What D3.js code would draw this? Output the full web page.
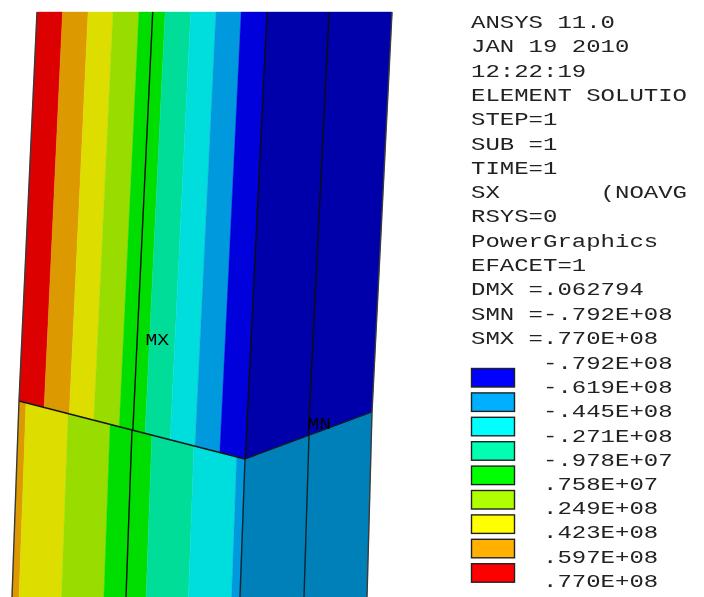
<!DOCTYPE html>
<html>
<head>
<meta charset="utf-8">
<style>
    html, body { margin: 0; padding: 0; background: #fff; }
    svg { display: block; }
    text { font-family: "Liberation Mono", monospace; fill: #222; white-space: pre; }
</style>
<script src="https://cdn.jsdelivr.net/npm/d3@7"></script>
</head>
<body>
<script>
// =======================DATA================================
const statusLines = [
    'ANSYS 11.0', 'JAN 19 2010', '12:22:19', 'ELEMENT SOLUTIO', 'STEP=1', 'SUB =1', 'TIME=1',
    'SX       (NOAVG', 'RSYS=0', 'PowerGraphics', 'EFACET=1', 'DMX =.062794',
    'SMN =-.792E+08', 'SMX =.770E+08'
]
const legendLevels = ['-.792E+08', '-.619E+08', '-.445E+08', '-.271E+08', '-.978E+07',
    '.758E+07', '.249E+08', '.423E+08', '.597E+08', '.770E+08']
const legendBands = ['blue', 'sky', 'cyan', 'teal', 'green', 'lime', 'yellow', 'orange', 'red']

// band edges, in percent across each face of the section
const upperEdges = [0, 7.2, 14.4, 21.4, 28.7, 36.1, 43.3, 50.4, 57.5, 64.8, 100]
const upperBands = ['red', 'orange', 'yellow', 'lime', 'green', 'teal', 'cyan', 'sky', 'blue', 'navy']
const lowerLeftEdges = [0, 3.1, 21.7, 40.3, 58.8, 77.4, 96.3, 100]
const lowerLeftBands = ['orange', 'yellow', 'lime', 'green', 'teal', 'cyan', 'sky']
const lowerRightEdges = [0, 100]
const lowerRightBands = ['steel']

// element boundaries, same percent units
const upperMesh = [32.6, 64.8, 82.3]
const lowerLeftMesh = [50]
const lowerRightMesh = [50.4]
const seamCorner = 64.8

const legendColor = d3.scaleOrdinal()
    .domain(legendBands)
    .range(['#0000ff', '#00b0ff', '#00ffff', '#00ffb0', '#00ff00', '#b0ff00', '#ffff00', '#ffb000', '#ff0000'])
const faceColor = d3.scaleOrdinal()
    .domain(['red', 'orange', 'yellow', 'lime', 'green', 'teal', 'cyan', 'sky', 'blue', 'navy', 'steel'])
    .range(['#dd0000', '#dd9900', '#dddd00', '#99dd00', '#00dd00', '#00dd99', '#00dddd', '#0099dd', '#0000dd', '#0000aa', '#0080b8'])

// =======================SCALES==============================
const width = 704
const height = 597
const faceTop = 12
const charWidth = 14.4

const svg = d3.select('body').append('svg')
    .attr('width', width)
    .attr('height', height)

const plot = svg.append('g').style('filter', 'blur(0.35px)')
const legend = svg.append('g').style('filter', 'blur(0.3px)')

// upper face: both sides lean, the lower boundary is the kinked seam
const upperLeftX = d3.scaleLinear().domain([faceTop, 401]).range([37, 19])
const upperRightX = d3.scaleLinear().domain([faceTop, 412]).range([392, 372])
const seamY = d3.scaleLinear().domain([0, seamCorner, 100]).range([401, 459, 412])

function upperPoint(u, y) {
    const x = d3.scaleLinear().domain([0, 100]).range([upperLeftX(y), upperRightX(y)])
    return [x(u), y]
}

// lower faces: straight top edge down to the bottom of the picture
function lowerFace(topX, topY, bottomX) {
    return {
        top: (u) => [d3.scaleLinear().domain([0, 100]).range(topX)(u), d3.scaleLinear().domain([0, 100]).range(topY)(u)],
        bottom: (u) => [d3.scaleLinear().domain([0, 100]).range(bottomX)(u), height]
    }
}
const lowerLeft = lowerFace([19, 245], [401, 459], [12, 240])
const lowerRight = lowerFace([245, 372], [459, 412], [240, 367])

const line = d3.line()

// =======================FACES===============================
function drawBands(edges, bands, corners) {
    plot.append('g')
        .selectAll('path')
        .data(bands)
        .enter().append('path')
        .attr('d', (d, i) => line(corners(edges[i], edges[i + 1])) + 'Z')
        .attr('fill', (d) => faceColor(d))
        .attr('stroke', (d) => faceColor(d))
        .attr('stroke-width', 0.4)
}

drawBands(upperEdges, upperBands, (a, b) => [
    upperPoint(a, faceTop), upperPoint(b, faceTop), upperPoint(b, seamY(b)), upperPoint(a, seamY(a))
])
drawBands(lowerLeftEdges, lowerLeftBands, (a, b) => [
    lowerLeft.top(a), lowerLeft.top(b), lowerLeft.bottom(b), lowerLeft.bottom(a)
])
drawBands(lowerRightEdges, lowerRightBands, (a, b) => [
    lowerRight.top(a), lowerRight.top(b), lowerRight.bottom(b), lowerRight.bottom(a)
])

// =======================MESH================================
function drawLines(segments, color, w) {
    plot.append('g')
        .selectAll('path')
        .data(segments)
        .enter().append('path')
        .attr('d', (d) => line(d))
        .attr('fill', 'none')
        .attr('stroke', color)
        .attr('stroke-width', w)
}

drawLines(upperMesh.map((u) => [upperPoint(u, faceTop), upperPoint(u, seamY(u))]), '#0c0c0c', 1.4)
drawLines(lowerLeftMesh.map((u) => [lowerLeft.top(u), lowerLeft.bottom(u)]), '#0c0c0c', 1.4)
drawLines(lowerRightMesh.concat([0]).map((u) => [lowerRight.top(u), lowerRight.bottom(u)]), '#0c2430', 1.4)
drawLines([
    [lowerLeft.top(0), lowerLeft.top(100)],
    [lowerRight.top(0), lowerRight.top(100)]
], '#141414', 1.3)
drawLines([
    [upperPoint(0, faceTop), upperPoint(0, seamY(0))],
    [upperPoint(100, faceTop), upperPoint(100, seamY(100))],
    [lowerLeft.top(0), lowerLeft.bottom(0)],
    [lowerRight.top(100), lowerRight.bottom(100)]
], '#3a3a3a', 1.4)

// glyphs are stretched to the wide ANSYS character cell
function stretched(sel, cell) {
    sel.attr('textLength', (d) => d.length * cell)
        .attr('lengthAdjust', 'spacingAndGlyphs')
        .text((d) => d)
}

plot.selectAll('.marker')
    .data(['MX', 'MN'])
    .enter().append('text')
    .attr('class', 'marker')
    .attr('x', (d) => d == 'MX' ? 145.5 : 307.5)
    .attr('y', (d) => d == 'MX' ? 345 : 429)
    .style('font-size', '16px')
    .style('fill', '#000')
    .call(stretched, 11.8)

// =======================LEGEND==============================
const textY = d3.scaleLinear().domain([0, 1]).range([28, 52.3])
const levelY = d3.scaleLinear().domain([0, 1]).range([369, 393.2])
const swatchY = d3.scaleLinear().domain([0, 1]).range([368.5, 392.9])

legend.selectAll('.status')
    .data(statusLines)
    .enter().append('text')
    .attr('class', 'status')
    .attr('x', 471)
    .attr('y', (d, i) => textY(i))
    .style('font-size', '18px')
    .call(stretched, charWidth)

legend.selectAll('.level')
    .data(legendLevels)
    .enter().append('text')
    .attr('class', 'level')
    .attr('x', 543)
    .attr('y', (d, i) => levelY(i))
    .style('font-size', '18px')
    .call(stretched, charWidth)

legend.selectAll('rect')
    .data(legendBands)
    .enter().append('rect')
    .attr('x', 471.5)
    .attr('y', (d, i) => swatchY(i))
    .attr('width', 43)
    .attr('height', 18.5)
    .attr('fill', (d) => legendColor(d))
    .attr('stroke', '#222')
    .attr('stroke-width', 1.4)
</script>
</body>
</html>
